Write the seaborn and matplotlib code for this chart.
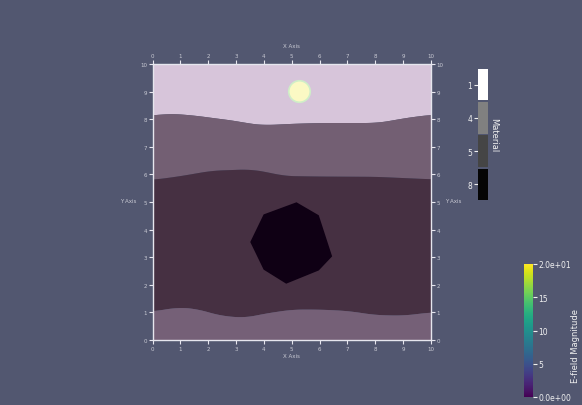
import numpy as np
import pandas as pd
import matplotlib
matplotlib.use("Agg")
import matplotlib.pyplot as plt
import matplotlib.colors as mcolors
import seaborn as sns

# layer boundaries (x, y)
top_x = [0, 0.6, 1.5, 2.0, 3.0, 3.5, 4.0, 5.0, 6.0, 7.0, 8.0, 8.5, 9.0, 10]
top_y = [8.15, 8.22, 8.15, 8.08, 7.95, 7.85, 7.8, 7.85, 7.88, 7.88, 7.88, 7.95, 8.05, 8.18]

mid_x = [0, 0.9, 1.6, 2.1, 3.5, 4.2, 4.7, 6.0, 8.0, 10]
mid_y = [5.82, 5.94, 6.06, 6.15, 6.2, 6.08, 5.96, 5.94, 5.93, 5.84]

low_x = [0, 0.9, 1.6, 2.4, 3.3, 4.0, 5.0, 6.0, 7.0, 8.0, 9.0, 10]
low_y = [1.05, 1.2, 1.14, 0.9, 0.82, 0.97, 1.12, 1.12, 1.07, 0.92, 0.9, 1.02]

# the dark inclusion
rock_x = [5.17, 5.97, 6.45, 5.97, 4.80, 3.99, 3.51, 3.99]
rock_y = [4.99, 4.52, 3.03, 2.52, 2.04, 2.55, 3.55, 4.55]

# source
src_x = [5.25]
src_y = [9.03]

materials = ["1", "4", "5", "8"]
material_colors = ["#ffffff", "#808080", "#454545", "#050505"]

efield_ticks = [0, 5, 10, 15, 20]
efield_labels = ["0.0e+00", "5", "10", "15", "2.0e+01"]

bg = "#525770"
txt = "#c9cad4"


def smooth_line(x, y, xs, k=25):
    # interpolate then soften the corners a bit
    yy = np.interp(xs, x, y)
    pad = np.pad(yy, k, mode="edge")
    return np.convolve(pad, np.ones(2 * k + 1) / (2 * k + 1), mode="same")[k:-k]


sns.set_theme(style="dark", rc={"axes.facecolor": bg, "figure.facecolor": bg})

fig = plt.figure(figsize=(5.82, 4.06), dpi=100)
ax = fig.add_axes([152.5 / 582, 1 - 341 / 406, 278.5 / 582, 276 / 406])

xs = np.linspace(0, 10, 600)
b_top = smooth_line(top_x, top_y, xs)
b_mid = smooth_line(mid_x, mid_y, xs)
b_low = smooth_line(low_x, low_y, xs)

ax.fill_between(xs, b_top, 10, color="#d7c5da", lw=0)
ax.fill_between(xs, b_mid, b_top, color="#735f73", lw=0)
ax.fill_between(xs, b_low, b_mid, color="#463042", lw=0)
ax.fill_between(xs, 0, b_low, color="#756077", lw=0)
ax.fill(rock_x, rock_y, color="#0f0014", lw=0)

df_src = pd.DataFrame({"x": src_x, "y": src_y})
sns.scatterplot(data=df_src, x="x", y="y", s=240, color="#fbf9c4",
                edgecolor="#cfeec8", linewidth=1.2, ax=ax, zorder=5)

ax.set_xlim(0, 10)
ax.set_ylim(0, 10)
ax.set_xticks(range(11))
ax.set_yticks(range(11))
ax.set_xlabel("")
ax.set_ylabel("")
ax.tick_params(top=True, right=True, bottom=True, left=True,
               labeltop=True, labelright=True, direction="out",
               length=3, width=0.8, color="#e6e6ee", labelsize=4,
               labelcolor=txt, pad=1)
for s in ax.spines.values():
    s.set_visible(True)
    s.set_color("#e6e6ee")
    s.set_linewidth(1)
ax.grid(False)

fig.text(291 / 582, 1 - 46 / 406, "X Axis", color=txt, fontsize=4, ha="center", va="center")
fig.text(291 / 582, 1 - 357 / 406, "X Axis", color=txt, fontsize=4, ha="center", va="center")
fig.text(128 / 582, 1 - 202 / 406, "Y Axis", color=txt, fontsize=4, ha="center", va="center")
fig.text(453 / 582, 1 - 202 / 406, "Y Axis", color=txt, fontsize=4, ha="center", va="center")

# material legend bar
cax1 = fig.add_axes([478 / 582, 1 - 202 / 406, 10 / 582, 133 / 406])
pos = np.arange(len(materials))[::-1]
cax1.bar([0] * len(materials), [0.94] * len(materials), bottom=pos - 0.47,
         width=1, color=material_colors, linewidth=0)
cax1.set_xlim(-0.5, 0.5)
cax1.set_ylim(-0.5, len(materials) - 0.5)
cax1.set_xticks([])
cax1.set_yticks(pos)
cax1.set_yticklabels(materials)
cax1.tick_params(axis="y", left=True, direction="out", length=3, width=0.8,
                 color="#f0f0f0", labelcolor="#f0f0f0", labelsize=5.5, pad=1)
cax1.set_facecolor(bg)
for s in cax1.spines.values():
    s.set_visible(False)
fig.text(494 / 582, 1 - 135 / 406, "Material", color="#f0f0f0", fontsize=6,
         rotation=270, ha="center", va="center")

# e-field colorbar
cax2 = fig.add_axes([524 / 582, 1 - 398 / 406, 9 / 582, 133 / 406])
sm = plt.cm.ScalarMappable(cmap="viridis", norm=mcolors.Normalize(0, 20))
cb = fig.colorbar(sm, cax=cax2)
cb.set_ticks(efield_ticks)
cb.set_ticklabels(efield_labels)
cb.outline.set_visible(False)
cax2.tick_params(direction="out", length=3, width=0.8, color="#f0f0f0",
                 labelcolor="#f0f0f0", labelsize=5.5, pad=1)
fig.text(576 / 582, 1 - 346 / 406, "E-field Magnitude", color="#f0f0f0",
         fontsize=6, rotation=90, ha="center", va="center")

fig.savefig("out.png", dpi=100, facecolor=bg)
